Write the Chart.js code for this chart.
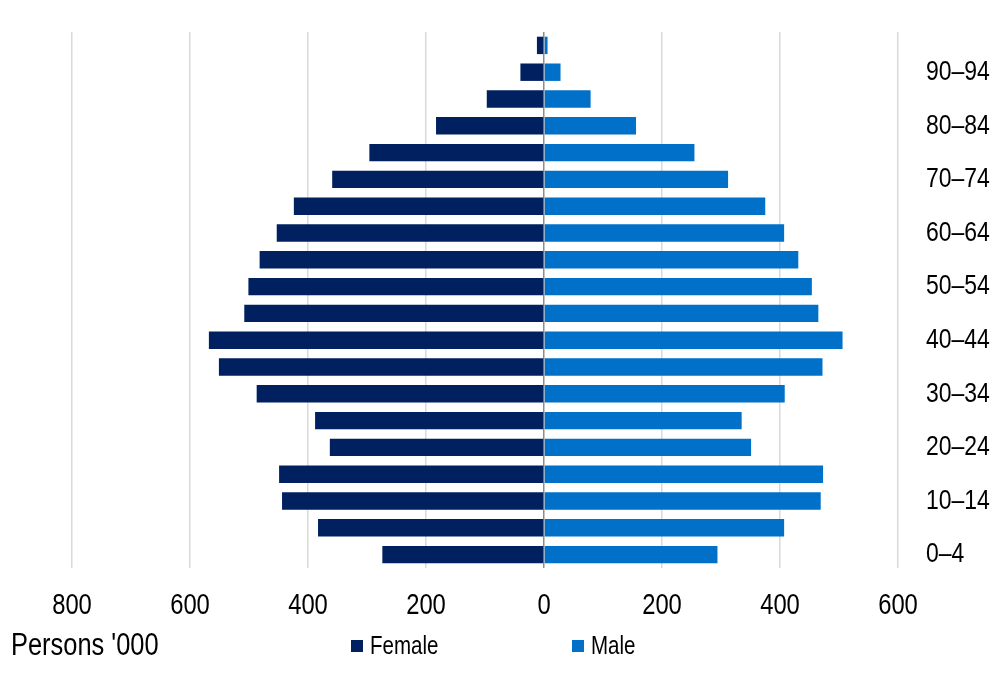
<!DOCTYPE html>
<html>
<head>
<meta charset="utf-8">
<script src="https://cdn.jsdelivr.net/npm/chart.js@4.4.1/dist/chart.umd.min.js"></script>
<style>
  html, body { margin: 0; padding: 0; background: #fff; }
  #wrap { width: 1000px; height: 674px; }
</style>
</head>
<body>
<div id="wrap"><canvas id="pyramid"></canvas></div>
<script>
// Kelompok umur, dari muda ke tua
const ageGroups = ['0–4', '5–9', '10–14', '15–19', '20–24', '25–29', '30–34', '35–39', '40–44', '45–49',
                   '50–54', '55–59', '60–64', '65–69', '70–74', '75–79', '80–84', '85–89', '90–94', '95+'];
// Jumlah penduduk ('000)
const female = [274, 383, 444, 449, 363, 388, 487, 551, 568, 508,
                501, 482, 453, 424, 359, 296, 183, 97, 40, 12];
const male   = [294, 407, 469, 473, 351, 335, 408, 472, 506, 465,
                454, 431, 407, 375, 312, 255, 156, 79, 28, 6];
const xTicks = [-800, -600, -400, -200, 0, 200, 400, 600];

// Font sempit (Arial Narrow) tidak tersedia, jadi Liberation Sans dipadatkan
const FONT = "'Liberation Sans', Arial, sans-serif";
const SQUEEZE = 0.82;
const COLORS = { female: '#002060', male: '#0070c8' };

const $ = id => document.getElementById(id);

// Tulis teks dengan skala horizontal
const narrowText = (ctx, text, x, y, size, align = 'left') => {
    ctx.save();
    ctx.font = `${size}px ${FONT}`;
    ctx.textAlign = align;
    ctx.textBaseline = 'middle';
    ctx.fillStyle = '#000';
    ctx.translate(x, y);
    ctx.scale(SQUEEZE, 1);
    ctx.fillText(text, 0, 0);
    ctx.restore();
};

// Plugin untuk label sumbu, judul sumbu dan legenda
const labels = {
    id: 'labels',
    afterDraw(chart) {
        const ctx = chart.ctx;
        const { x, y } = chart.scales;

        xTicks.forEach(v => narrowText(ctx, String(Math.abs(v)), x.getPixelForValue(v), 606, 29, 'center'));

        ageGroups.forEach((g, i) => {
            if (i % 2 === 0) narrowText(ctx, g, chart.chartArea.right + 28, y.getPixelForValue(i), 28);
        });

        narrowText(ctx, "Persons '000", 11, 646, 31);

        [[351, 0], [572, 1]].forEach(([lx, i]) => {
            const ds = chart.data.datasets[i];
            ctx.fillStyle = ds.backgroundColor;
            ctx.fillRect(lx, 640, 12, 12);
            narrowText(ctx, ds.label, lx + 19, 647, 25);
        });
    }
};

new Chart($('pyramid').getContext('2d'), {
    type: 'bar',
    data: {
        labels: ageGroups,
        datasets: [
            { label: 'Female', data: female.map(v => -v), backgroundColor: COLORS.female },
            { label: 'Male', data: male, backgroundColor: COLORS.male }
        ]
    },
    options: {
        indexAxis: 'y',
        responsive: true,
        maintainAspectRatio: false,
        animation: false,
        layout: { padding: { left: 72, top: 32, right: 0, bottom: 0 } },
        datasets: { bar: { barPercentage: 0.65, categoryPercentage: 1, borderWidth: 0 } },
        scales: {
            x: {
                min: -800,
                max: 600,
                afterBuildTicks: s => { s.ticks = xTicks.map(v => ({ value: v })); },
                afterFit: s => { s.height = 106; },
                border: { display: false },
                grid: {
                    drawTicks: false,
                    lineWidth: 1.5,
                    color: c => c.tick && c.tick.value === 0 ? '#8c8c8c' : '#d9d9d9'
                },
                ticks: { display: false }
            },
            y: {
                position: 'right',
                stacked: true,
                reverse: true,
                afterFit: s => { s.width = 102; },
                border: { display: false },
                grid: { display: false },
                ticks: { display: false }
            }
        },
        plugins: {
            legend: { display: false },
            tooltip: { enabled: false }
        }
    },
    plugins: [labels]
});
</script>
</body>
</html>
